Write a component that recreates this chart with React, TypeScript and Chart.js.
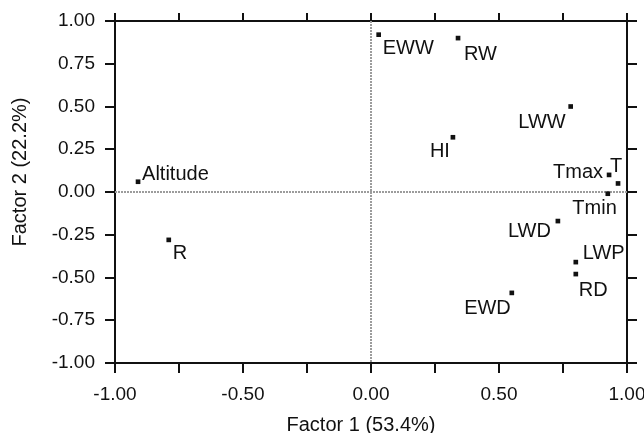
import React, { useEffect, useRef } from 'react';
import { Chart, registerables } from 'chart.js';

Chart.register(...registerables);

const NAMES = ['Altitude', 'R', 'EWW', 'RW', 'LWW', 'HI', 'Tmax', 'T', 'Tmin', 'LWD', 'LWP', 'RD', 'EWD'];
const FACTOR1 = [-0.91, -0.79, 0.03, 0.34, 0.78, 0.32, 0.93, 0.965, 0.925, 0.73, 0.8, 0.8, 0.55];
const FACTOR2 = [0.06, -0.28, 0.92, 0.9, 0.5, 0.32, 0.1, 0.05, -0.01, -0.17, -0.41, -0.48, -0.59];
const AXIS_MIN = -1;
const AXIS_MAX = 1;
const TICK_STEP = 0.25;
const X_TITLE = 'Factor 1 (53.4%)';
const Y_TITLE = 'Factor 2 (22.2%)';

// label placement relative to each point: [dx, dy, align]
const LABEL_PLACE: [number, number, CanvasTextAlign][] = [
  [4, -2, 'left'],
  [4, 19, 'left'],
  [4, 19, 'left'],
  [6, 22, 'left'],
  [-5, 21, 'right'],
  [-3, 20, 'right'],
  [-6, 3, 'right'],
  [-2, -11, 'center'],
  [9, 20, 'right'],
  [-7, 16, 'right'],
  [7, -3, 'left'],
  [3, 22, 'left'],
  [-1, 21, 'right'],
];

const FONT = "'Liberation Sans', Arial, sans-serif";
const INK = '#111';

const isHalf = (v: number) => Math.abs(v * 2 - Math.round(v * 2)) < 1e-9;

const decorPlugin = {
  id: 'decor',
  beforeDatasetsDraw(chart: any) {
    const { ctx, chartArea } = chart;
    const xs = chart.scales.x;
    const ys = chart.scales.y;
    const x0 = Math.round(xs.getPixelForValue(0));
    const y0 = Math.round(ys.getPixelForValue(0));
    ctx.save();
    ctx.strokeStyle = '#9c9c9c';
    ctx.lineWidth = 2;
    ctx.setLineDash([2, 1]);
    ctx.beginPath();
    ctx.moveTo(x0, chartArea.top);
    ctx.lineTo(x0, chartArea.bottom);
    ctx.moveTo(chartArea.left, y0);
    ctx.lineTo(chartArea.right, y0);
    ctx.stroke();
    ctx.restore();
  },
  afterDatasetsDraw(chart: any) {
    const { ctx, chartArea } = chart;
    const meta = chart.getDatasetMeta(0);
    ctx.save();
    ctx.fillStyle = INK;
    ctx.font = `20px ${FONT}`;
    ctx.textBaseline = 'alphabetic';
    meta.data.forEach((pt: any, i: number) => {
      const [dx, dy, align] = LABEL_PLACE[i];
      ctx.textAlign = align;
      ctx.fillText(NAMES[i], pt.x + dx, pt.y + dy);
    });
    // axis titles
    ctx.font = `20px ${FONT}`;
    ctx.textAlign = 'center';
    ctx.textBaseline = 'alphabetic';
    const cx = (chartArea.left + chartArea.right) / 2 - 10;
    ctx.fillText(X_TITLE, cx, 431);
    const cy = (chartArea.top + chartArea.bottom) / 2 - 20;
    ctx.translate(20, cy);
    ctx.rotate(-Math.PI / 2);
    ctx.textBaseline = 'middle';
    ctx.fillText(Y_TITLE, 0, 0);
    ctx.restore();
  },
};

const frameGrid = (len: number) => ({
  drawOnChartArea: false,
  drawTicks: true,
  tickLength: len,
  tickColor: INK,
  tickWidth: 2,
  color: INK,
  lineWidth: 2,
});
const border = { display: true, color: INK, width: 2 };

export default function App() {
  const ref = useRef<HTMLCanvasElement | null>(null);
  useEffect(() => {
    if (!ref.current) return;
    const points = FACTOR1.map((x, i) => ({ x, y: FACTOR2[i] }));
    const chart = new Chart(ref.current, {
      type: 'scatter',
      data: {
        datasets: [
          {
            data: points,
            pointStyle: 'rect',
            pointRadius: 3.3,
            pointBackgroundColor: INK,
            pointBorderWidth: 0,
            borderColor: INK,
            showLine: false,
          },
        ],
      },
      options: {
        animation: false,
        responsive: false,
        layout: { padding: 0 },
        plugins: { legend: { display: false }, tooltip: { enabled: false } },
        scales: {
          x: {
            type: 'linear',
            position: 'bottom',
            min: AXIS_MIN,
            max: AXIS_MAX,
            grid: frameGrid(10),
            border,
            ticks: {
              stepSize: TICK_STEP,
              autoSkip: false,
              maxRotation: 0,
              padding: 10,
              color: INK,
              font: { family: FONT, size: 19 },
              callback: (v: any) => (isHalf(Number(v)) ? Number(v).toFixed(2) : ''),
            },
            afterFit: (s: any) => {
              s.height = 70;
              s.paddingLeft = 0;
              s.paddingRight = 0;
            },
          },
          x2: {
            type: 'linear',
            position: 'top',
            min: AXIS_MIN,
            max: AXIS_MAX,
            grid: frameGrid(8),
            border,
            ticks: { stepSize: TICK_STEP, display: false },
            afterFit: (s: any) => {
              s.height = 21;
              s.paddingLeft = 0;
              s.paddingRight = 0;
            },
          },
          y: {
            type: 'linear',
            position: 'left',
            min: AXIS_MIN,
            max: AXIS_MAX,
            grid: frameGrid(10),
            border,
            ticks: {
              stepSize: TICK_STEP,
              autoSkip: false,
              padding: 10,
              color: INK,
              font: { family: FONT, size: 19 },
              callback: (v: any) => Number(v).toFixed(2),
            },
            afterFit: (s: any) => {
              s.width = 115;
              s.paddingTop = 0;
              s.paddingBottom = 0;
            },
          },
          y2: {
            type: 'linear',
            position: 'right',
            min: AXIS_MIN,
            max: AXIS_MAX,
            grid: frameGrid(10),
            border,
            ticks: { stepSize: TICK_STEP, display: false },
            afterFit: (s: any) => {
              s.width = 17;
              s.paddingTop = 0;
              s.paddingBottom = 0;
            },
          },
        },
      },
      plugins: [decorPlugin],
    });
    return () => chart.destroy();
  }, []);
  return (
    <div style={{ position: 'absolute', left: 0, top: 0, width: 644, height: 433, background: '#fff' }}>
      <canvas ref={ref} width={644} height={433} style={{ display: 'block' }} />
    </div>
  );
}
